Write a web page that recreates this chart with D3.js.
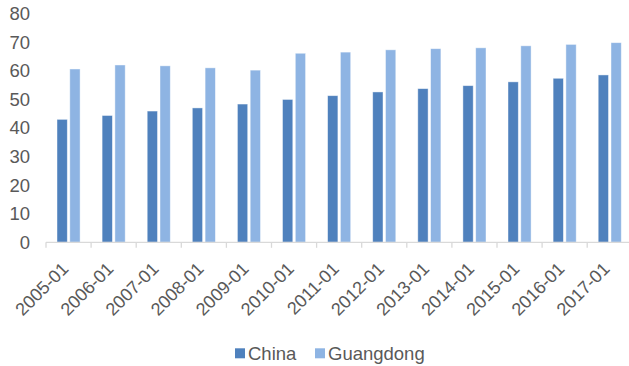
<!DOCTYPE html>
<html>
<head>
<meta charset="utf-8">
<script src="https://cdn.jsdelivr.net/npm/d3@7/dist/d3.min.js"></script>
<style>
  html, body { margin: 0; padding: 0; background: #fff; }
  svg { display: block; font-family: "Liberation Sans", Arial, sans-serif; }
</style>
</head>
<body>
<svg id="chart" width="629" height="366"></svg>
<script>
// Urbanization rate (%), China vs Guangdong
const categories = ["2005-01","2006-01","2007-01","2008-01","2009-01","2010-01","2011-01",
                    "2012-01","2013-01","2014-01","2015-01","2016-01","2017-01"];
const seriesNames = ["China", "Guangdong"];
const china     = [42.99, 44.34, 45.89, 46.99, 48.34, 49.95, 51.27, 52.57, 53.73, 54.77, 56.10, 57.35, 58.52];
const guangdong = [60.6, 62.0, 61.7, 61.0, 60.2, 66.1, 66.5, 67.3, 67.7, 68.0, 68.7, 69.2, 69.8];
const yTicks = [0, 10, 20, 30, 40, 50, 60, 70, 80];

const colors = { China: "#4f81bd", Guangdong: "#8eb4e3" };
const textColor = "#595959";
const axisColor = "#d9d9d9";

const svg = d3.select("#chart");

const x0 = d3.scaleBand().domain(categories).range([46, 632.3]).paddingInner(0).paddingOuter(0);
const x1 = d3.scaleBand().domain(seriesNames).range([0, x0.bandwidth()])
  .paddingInner(0.195).paddingOuter(0.86);
const y = d3.scaleLinear().domain([0, 80]).range([242.3, 13.5]);

const rows = categories.map((c, i) => ({ cat: c, China: china[i], Guangdong: guangdong[i] }));

// bars
const groups = svg.append("g").selectAll("g")
  .data(rows).join("g")
  .attr("transform", d => `translate(${x0(d.cat)},0)`);

groups.selectAll("rect")
  .data(d => seriesNames.map(k => ({ key: k, value: d[k] })))
  .join("rect")
  .attr("x", d => x1(d.key))
  .attr("y", d => y(d.value))
  .attr("width", x1.bandwidth())
  .attr("height", d => y(0) - y(d.value))
  .attr("fill", d => colors[d.key])
  .attr("stroke", "#ffffff")
  .attr("stroke-opacity", 0.55)
  .attr("stroke-width", 0.8);

// y-axis labels (no axis line)
svg.append("g").selectAll("text")
  .data(yTicks).join("text")
  .attr("x", 30)
  .attr("y", d => y(d))
  .attr("dy", "0.35em")
  .attr("text-anchor", "end")
  .attr("font-size", 18.5)
  .attr("fill", textColor)
  .text(d => d);

// x-axis baseline with category separators
const xAxis = svg.append("g");
xAxis.append("line")
  .attr("x1", 46).attr("x2", 632.3)
  .attr("y1", y(0)).attr("y2", y(0))
  .attr("stroke", axisColor).attr("stroke-width", 1.3);
xAxis.selectAll("line.tick")
  .data(categories.concat([null]))
  .join("line")
  .attr("class", "tick")
  .attr("x1", (d, i) => 46 + i * x0.step())
  .attr("x2", (d, i) => 46 + i * x0.step())
  .attr("y1", y(0)).attr("y2", y(0) + 5.5)
  .attr("stroke", axisColor).attr("stroke-width", 1.3);

// rotated category labels, ending under each category centre
xAxis.selectAll("text")
  .data(categories).join("text")
  .attr("transform", d => `translate(${x0(d) + x0.bandwidth() / 2 + 1},270) rotate(-45)`)
  .attr("text-anchor", "end")
  .attr("font-size", 18)
  .attr("fill", textColor)
  .text(d => d);

// legend
const legendItems = [
  { key: "China", x: 235 },
  { key: "Guangdong", x: 315 }
];
const legend = svg.append("g");
legend.selectAll("rect")
  .data(legendItems).join("rect")
  .attr("x", d => d.x).attr("y", 348.3)
  .attr("width", 10).attr("height", 10)
  .attr("fill", d => colors[d.key]);
legend.selectAll("text")
  .data(legendItems).join("text")
  .attr("x", d => d.x + 13).attr("y", 359.5)
  .attr("font-size", 18.5)
  .attr("fill", textColor)
  .text(d => d.key);
</script>
</body>
</html>
